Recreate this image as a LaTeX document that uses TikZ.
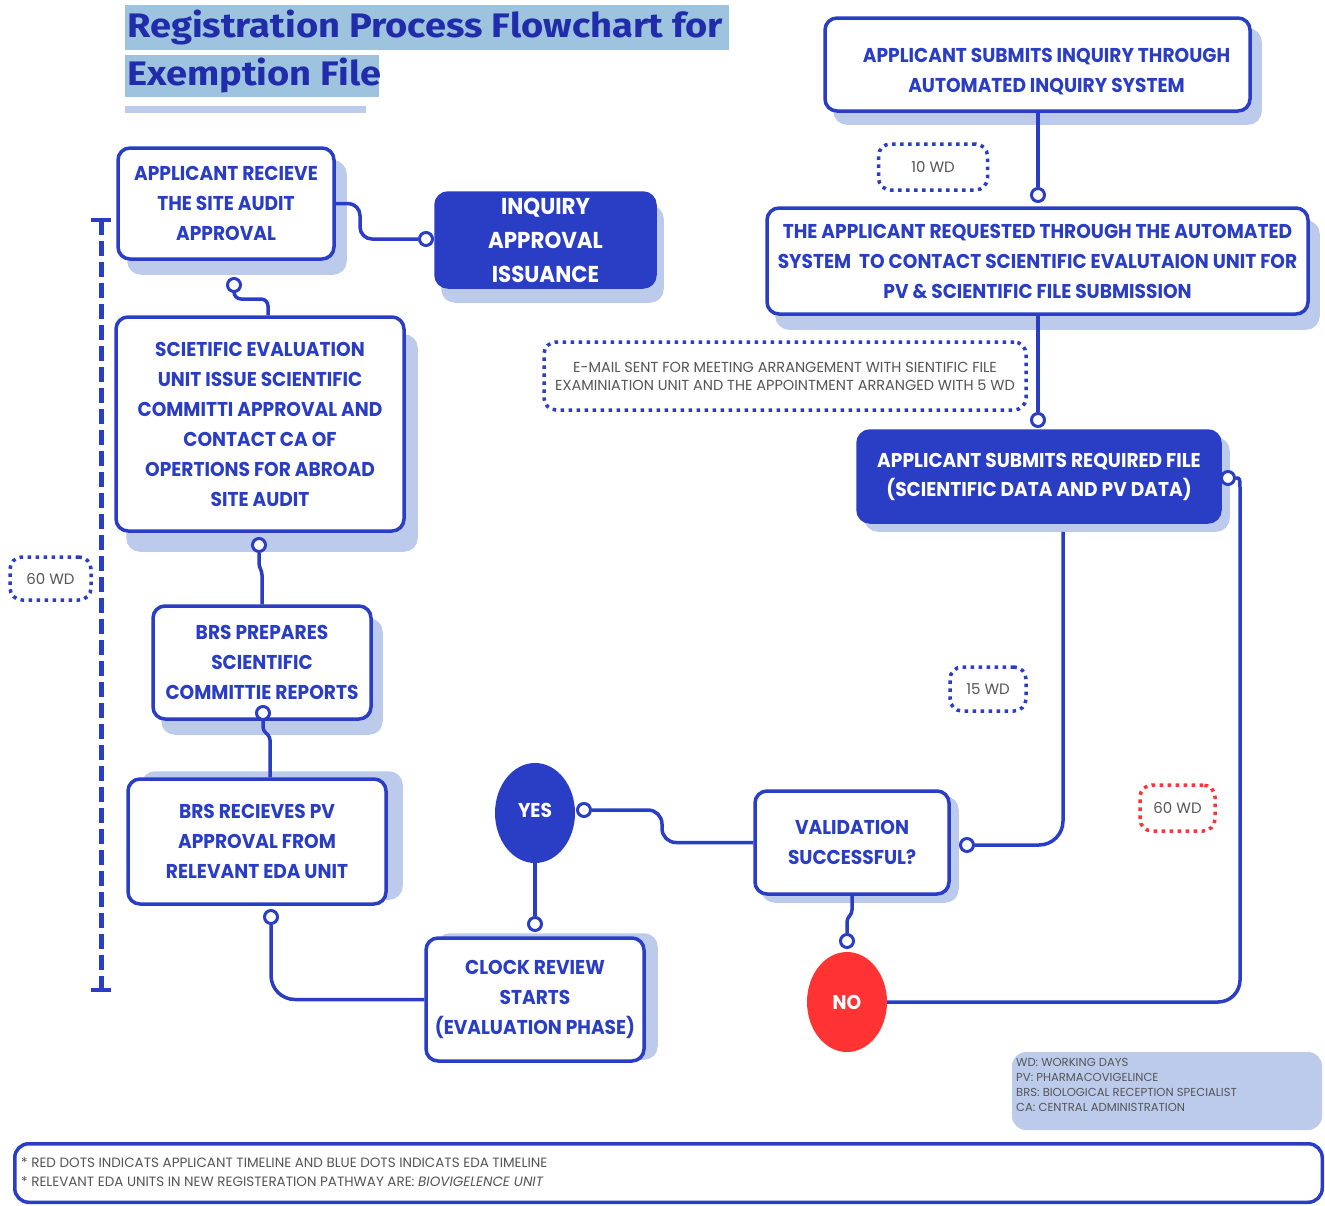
\documentclass[tikz,border=0pt]{standalone}
\usepackage{fontspec}
\usetikzlibrary{shapes.geometric,shadows}
\newfontfamily\boxfont{Poppins}[FakeStretch=0.93]
\newfontfamily\notefont{Poppins}
\newfontfamily\titlefont{Fira Sans}[FakeStretch=1.12]
\definecolor{eblue}{RGB}{42,61,197}
\definecolor{shadowblue}{RGB}{188,203,235}
\definecolor{titlehl}{RGB}{157,195,222}
\definecolor{titleblue}{RGB}{32,44,170}
\definecolor{nored}{RGB}{255,51,51}
\definecolor{notegray}{RGB}{85,85,85}
\begin{document}
\begin{tikzpicture}[x=1pt,y=-1pt,
  box/.style={draw=eblue, line width=3.5pt, rounded corners=12pt, fill=white, text=eblue,
    align=center, inner sep=0pt, font=\boxfont\bfseries\fontsize{20}{30}\selectfont},
  darkbox/.style={box, fill=eblue, text=white},
  sh/.style 2 args={copy shadow={shadow xshift=#1pt, shadow yshift=#2pt, fill=shadowblue, draw=shadowblue}},
  conn/.style={draw=eblue, line width=3.5pt},
  port/.style={circle, draw=eblue, fill=white, line width=3pt, minimum size=13pt, inner sep=0pt},
  answer/.style={ellipse, minimum width=80pt, minimum height=100pt, inner sep=0pt, text=white,
    font=\boxfont\bfseries\fontsize{20}{24}\selectfont},
  wd/.style={draw=#1, line width=3.5pt, dash pattern=on 3.5pt off 4.5pt, rounded corners=12pt,
    text=notegray, inner sep=0pt, align=center, font=\notefont\fontsize{15}{18}\selectfont},
  note/.style={anchor=north west, align=left, inner sep=0pt, text=notegray},
  titletext/.style={anchor=base west, inner sep=0pt, text=titleblue,
    font=\titlefont\bfseries\fontsize{34}{40}\selectfont},
]
\useasboundingbox (0,0) rectangle (1325,1205);
\fill[white] (0,0) rectangle (1325,1205);

% title with highlight bands
\fill[titlehl] (125,5) rectangle (729,50);
\fill[titlehl] (125,55) rectangle (379,97);
\fill[shadowblue] (125,106) rectangle (366,113);
\node[titletext] (title1) at (127,37) {Registration Process Flowchart for};
\node[titletext] (title2) at (127,85) {Exemption File};

% process boxes
\node[box, sh={10}{-12}, minimum width=425pt, minimum height=93pt] (inq) at (1037.5,64.5)
  {\hspace*{18pt}\rule{0pt}{28pt}APPLICANT SUBMITS INQUIRY THROUGH\\\hspace*{18pt}AUTOMATED INQUIRY SYSTEM};
\node[box, sh={10}{-14}, minimum width=541pt, minimum height=106pt] (req) at (1037.5,261)
  {THE APPLICANT REQUESTED THROUGH THE AUTOMATED\\SYSTEM\ \ TO CONTACT SCIENTIFIC EVALUTAION UNIT FOR\\PV \& SCIENTIFIC FILE SUBMISSION};
\node[darkbox, sh={8}{-8}, minimum width=362pt, minimum height=91pt,
  font=\boxfont\bfseries\fontsize{20}{29}\selectfont] (sub) at (1039,476.5)
  {APPLICANT SUBMITS REQUIRED FILE\\(SCIENTIFIC DATA AND PV DATA)};
\node[darkbox, sh={7}{-14}, minimum width=219pt, minimum height=94pt,
  font=\boxfont\bfseries\fontsize{23}{34}\selectfont] (iss) at (545.5,240)
  {INQUIRY\\APPROVAL\\ISSUANCE};
\node[box, sh={11}{-14}, minimum width=216pt, minimum height=111pt] (site) at (226,203.5)
  {APPLICANT RECIEVE\\THE SITE AUDIT\\APPROVAL};
\node[box, sh={12}{-19}, minimum width=288pt, minimum height=214pt] (sci) at (260,424)
  {SCIETIFIC EVALUATION\\UNIT ISSUE SCIENTIFIC\\COMMITTI APPROVAL AND\\CONTACT CA OF\\OPERTIONS FOR ABROAD\\SITE AUDIT};
\node[box, sh={10}{-14}, minimum width=218pt, minimum height=113pt] (prep) at (262,662.5)
  {BRS PREPARES\\SCIENTIFIC\\COMMITTIE REPORTS};
\node[box, sh={15}{6}, minimum width=258pt, minimum height=125pt] (pv) at (257,841.5)
  {BRS RECIEVES PV\\APPROVAL FROM\\RELEVANT EDA UNIT};
\node[box, sh={12}{3}, minimum width=218pt, minimum height=123pt] (clock) at (535,999.5)
  {CLOCK REVIEW\\STARTS\\(EVALUATION PHASE)};
\node[box, sh={8}{-7}, minimum width=194pt, minimum height=103pt] (val) at (852,842.5)
  {VALIDATION\\SUCCESSFUL?};

% decision outcomes
\node[answer, fill=eblue] (yes) at (535,813) {\raisebox{6pt}{YES}};
\node[answer, fill=nored] (no) at (847,1002) {NO};

% connector ends
\node[port] (pA) at (1038,195) {};
\node[port] (pB) at (1038,420) {};
\node[port] (pC) at (1228,478) {};
\node[port] (pD) at (967,845) {};
\node[port] (pE) at (584,810) {};
\node[port] (pF) at (535,924) {};
\node[port] (pG) at (847,941) {};
\node[port] (pH) at (271,917) {};
\node[port] (pI) at (263,713) {};
\node[port] (pJ) at (259,545) {};
\node[port] (pK) at (234,285) {};
\node[port] (pL) at (426,239) {};

% connectors
\draw[conn] (inq.south -| pA) -- (pA.north);
\draw[conn] (req.south -| pB) -- (pB.north);
\draw[conn] (pC.east) .. controls (1240,478) .. (1240,492) [rounded corners=22pt] |- (no.east);
\draw[conn, rounded corners=24pt] ([xshift=24pt,yshift=-8pt]sub.south) |- (pD.east);
\draw[conn, rounded corners=14pt] (val.west) -- (662,842.5) -- (662,810) -- (pE.east);
\draw[conn] (yes.south) -- (pF.north);
\draw[conn, rounded corners=3pt] (val.south) -- (852,913) -- (847,919) -- (pG.north);
\draw[conn, rounded corners=24pt] (pH.south) |- (clock.west);
\draw[conn, rounded corners=3pt] (pI.south) -- (263,730) -- (270,737) -- ([xshift=13pt]pv.north);
\draw[conn, rounded corners=3pt] (pJ.south) -- (259,566) -- (262,572) -- (prep.north);
\draw[conn, rounded corners=7pt] (pK.south) -- (234,299) -- (268,299) -- ([xshift=8pt]sci.north);
\draw[conn, rounded corners=12pt] (site.east) -- (360,203.5) -- (360,239) -- (pL.west);

% timing labels
\node[wd=eblue, minimum width=109pt, minimum height=46pt] (w10) at (933,167) {10 WD};
\node[wd=eblue, minimum width=482pt, minimum height=68pt,
  font=\notefont\fontsize{14.5}{18}\selectfont] (mail) at (785,376)
  {E-MAIL SENT FOR MEETING ARRANGEMENT WITH SIENTIFIC FILE\\EXAMINIATION UNIT AND THE APPOINTMENT ARRANGED WITH 5 WD};
\node[wd=eblue, minimum width=76pt, minimum height=44pt] (w15) at (988,689) {15 WD};
\node[wd=nored, minimum width=75pt, minimum height=46pt] (w60r) at (1177.5,808) {60 WD};
\node[wd=eblue, minimum width=81pt, minimum height=43pt] (w60b) at (50.5,578.5) {60 WD};

% overall timeline bar
\coordinate (tlTop) at (101,220);
\coordinate (tlBot) at (101,990);
\draw[eblue, line width=5pt, dash pattern=on 15pt off 6pt] (tlTop) -- (tlBot);
\draw[eblue, line width=4pt] ([xshift=-10pt]tlTop) -- ([xshift=10pt]tlTop);
\draw[eblue, line width=4pt] ([xshift=-10pt]tlBot) -- ([xshift=10pt]tlBot);

% abbreviations
\node[fill=shadowblue, rounded corners=14pt, minimum width=310pt, minimum height=78pt, inner sep=0pt] (legend) at (1167,1091) {};
\node[note, font=\notefont\fontsize{11.6}{15}\selectfont] (legendtxt) at (1016,1058)
  {WD: WORKING DAYS\\PV: PHARMACOVIGELINCE\\BRS: BIOLOGICAL RECEPTION SPECIALIST\\CA: CENTRAL ADMINISTRATION};

% footnotes
\node[draw=eblue, line width=3.5pt, rounded corners=14pt, minimum width=1307.5pt, minimum height=58.5pt, inner sep=0pt] (foot) at (668.5,1173) {};
\node[note, font=\notefont\fontsize{13.5}{19}\selectfont] (foottxt) at (21,1157)
  {* RED DOTS INDICATS APPLICANT TIMELINE AND BLUE DOTS INDICATS EDA TIMELINE\\* RELEVANT EDA UNITS IN NEW REGISTERATION PATHWAY ARE: \textit{BIOVIGELENCE UNIT}};
\end{tikzpicture}
\end{document}
